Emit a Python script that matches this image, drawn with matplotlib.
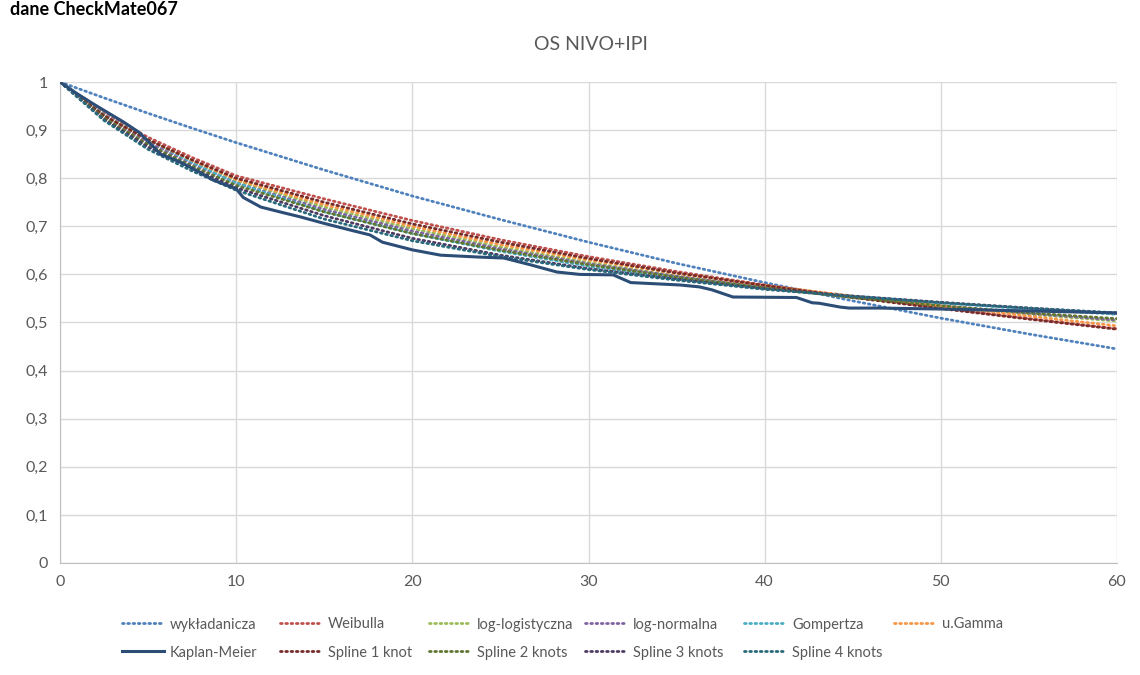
import matplotlib
matplotlib.use("Agg")
import matplotlib.pyplot as plt
from matplotlib.lines import Line2D
from matplotlib.ticker import FuncFormatter, MultipleLocator

plt.rcParams['font.family'] = ['Lato', 'DejaVu Sans']

# Time grid (months) for the fitted parametric / spline curves
t_fit = [0, 2.5, 5, 7.5, 10, 15, 20, 25, 30, 35, 40, 45, 50, 55, 60]

exponential = [1.000, 0.967, 0.935, 0.904, 0.874, 0.817, 0.763, 0.714, 0.667, 0.623, 0.583, 0.545, 0.509, 0.476, 0.445]
weibull     = [1.000, 0.935, 0.885, 0.843, 0.805, 0.757, 0.712, 0.672, 0.637, 0.606, 0.578, 0.553, 0.530, 0.508, 0.487]
loglogistic = [1.000, 0.930, 0.880, 0.835, 0.795, 0.740, 0.695, 0.657, 0.625, 0.597, 0.573, 0.552, 0.533, 0.517, 0.503]
lognormal   = [1.000, 0.928, 0.875, 0.830, 0.790, 0.735, 0.690, 0.653, 0.622, 0.596, 0.573, 0.553, 0.535, 0.519, 0.505]
gompertz    = [1.000, 0.932, 0.880, 0.833, 0.790, 0.730, 0.685, 0.648, 0.617, 0.592, 0.572, 0.555, 0.541, 0.528, 0.517]
gen_gamma   = [1.000, 0.930, 0.880, 0.837, 0.797, 0.745, 0.700, 0.662, 0.630, 0.602, 0.577, 0.555, 0.534, 0.513, 0.493]
spline1     = [1.000, 0.930, 0.880, 0.838, 0.800, 0.750, 0.705, 0.667, 0.633, 0.603, 0.577, 0.552, 0.529, 0.507, 0.486]
spline2     = [1.000, 0.925, 0.870, 0.825, 0.785, 0.730, 0.685, 0.650, 0.620, 0.594, 0.572, 0.552, 0.535, 0.520, 0.508]
spline3     = [1.000, 0.922, 0.865, 0.820, 0.780, 0.722, 0.675, 0.640, 0.612, 0.590, 0.570, 0.555, 0.542, 0.530, 0.519]
spline4     = [1.000, 0.920, 0.860, 0.815, 0.775, 0.715, 0.670, 0.637, 0.610, 0.588, 0.569, 0.554, 0.541, 0.530, 0.520]

# Kaplan-Meier estimate
km_t = [0, 1, 2, 3, 3.6, 4.5, 5.1, 5.7, 6.8, 7.9, 8.7, 10.0, 10.4, 11.4, 12.7, 13.6,
        14.9, 16.5, 17.6, 18.3, 20.0, 21.6, 23.8, 25.2, 26.7, 28.2, 29.5, 31.4,
        32.4, 35.2, 36.3, 37.0, 38.2, 41.8, 42.7, 43.1, 44.3, 44.8, 46.5, 50, 55, 60]
km_s = [1.000, 0.975, 0.952, 0.930, 0.917, 0.895, 0.873, 0.850, 0.834, 0.813, 0.796, 0.778, 0.760,
        0.740, 0.728, 0.720, 0.707, 0.692, 0.682, 0.667, 0.651, 0.640, 0.636, 0.634, 0.620, 0.605,
        0.600, 0.599, 0.583, 0.578, 0.574, 0.568, 0.553, 0.552, 0.541, 0.540, 0.532, 0.530, 0.530,
        0.528, 0.524, 0.520]

fits = [
    ("wykładanicza", exponential, "#4F81BD"),
    ("Weibulla", weibull, "#C0504D"),
    ("log-logistyczna", loglogistic, "#9BBB59"),
    ("log-normalna", lognormal, "#8064A2"),
    ("Gompertza", gompertz, "#4BACC6"),
    ("u.Gamma", gen_gamma, "#F79646"),
]
splines = [
    ("Spline 1 knot", spline1, "#772C2A"),
    ("Spline 2 knots", spline2, "#5F7530"),
    ("Spline 3 knots", spline3, "#4D3B62"),
    ("Spline 4 knots", spline4, "#276A7C"),
]

W, H = 1140, 675
fig = plt.figure(figsize=(W / 100, H / 100), dpi=100)
ax = fig.add_axes([60 / W, 112 / H, 1057 / W, 481 / H])

DOT = (0, (0.6, 1.3))
styles = {}
for name, vals, col in fits + splines:
    ax.plot(t_fit, vals, linestyle=DOT, linewidth=2.0,
            color=col, dash_capstyle='round', label=name)
    styles[name] = dict(color=col, linewidth=2.0, linestyle=DOT, dash_capstyle='round')
ax.plot(km_t, km_s, color="#2C4D75", linewidth=2.2, label="Kaplan-Meier", zorder=5)
styles["Kaplan-Meier"] = dict(color="#2C4D75", linewidth=2.2, linestyle="-")

ax.set_xlim(0, 60)
ax.set_ylim(0, 1)
ax.xaxis.set_major_locator(MultipleLocator(10))
ax.yaxis.set_major_locator(MultipleLocator(0.1))
ax.yaxis.set_major_formatter(FuncFormatter(
    lambda v, p: "0" if abs(v) < 1e-9 else ("1" if abs(v - 1) < 1e-9 else f"{v:.1f}".replace(".", ","))))
ax.grid(True, color="#D9D9D9", linewidth=1)
ax.set_axisbelow(True)
for s in ("top", "right"):
    ax.spines[s].set_visible(False)
for s in ("left", "bottom"):
    ax.spines[s].set_color("#BFBFBF")
ax.tick_params(length=0, colors="#595959", labelsize=11.5, pad=9)

fig.text(0.5 * (60 + 1117) / W + 0.002, (H - 45) / H, "OS NIVO+IPI", ha="center", va="center",
         fontsize=14, color="#595959")
fig.text(10 / W, (H - 15) / H, "dane CheckMate067", ha="left", va="baseline",
         fontsize=13, fontweight="bold", color="#000000")

# Legend laid out as a two-row grid below the plot
rows = [
    ["wykładanicza", "Weibulla", "log-logistyczna", "log-normalna", "Gompertza", "u.Gamma"],
    ["Kaplan-Meier", "Spline 1 knot", "Spline 2 knots", "Spline 3 knots", "Spline 4 knots"],
]
text_x = [170, 328, 477, 633, 792, 942]
row_y = [623, 651]
for r, names in enumerate(rows):
    y = (H - row_y[r]) / H
    for c, name in enumerate(names):
        x1 = (text_x[c] - 6) / W
        x0 = (text_x[c] - 48) / W
        fig.add_artist(Line2D([x0, x1], [y, y], transform=fig.transFigure, **styles[name]))
        fig.text(text_x[c] / W, y, name, ha="left", va="center_baseline",
                 fontsize=10.5, color="#595959")

fig.savefig("out.png", dpi=100, facecolor="white")
